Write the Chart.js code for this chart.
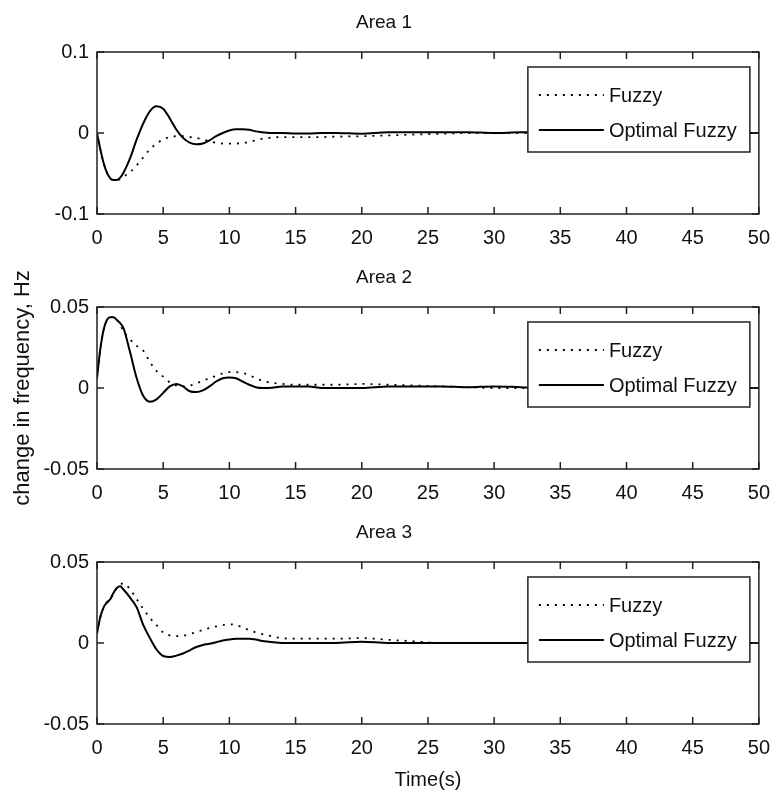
<!DOCTYPE html>
<html>
<head>
<meta charset="utf-8">
<script src="https://cdn.jsdelivr.net/npm/chart.js@4.4.1/dist/chart.umd.min.js"></script>
<style>
  html, body { margin: 0; padding: 0; background: #fff; }
  #wrap { position: relative; width: 782px; height: 800px; }
  .panel { position: absolute; left: 0; width: 782px; }
</style>
</head>
<body>
<div id="wrap">
  <div class="panel" style="top:0"><canvas id="area1" width="782" height="255"></canvas></div>
  <div class="panel" style="top:255px"><canvas id="area2" width="782" height="255"></canvas></div>
  <div class="panel" style="top:510px"><canvas id="area3" width="782" height="290"></canvas></div>
</div>
<script>
// Tiempo (s), compartido por todas las curvas
const tiempo = [0, 0.25, 0.5, 0.75, 1, 1.25, 1.5, 1.75, 2, 2.5, 3, 3.5, 4, 4.5, 5, 5.5, 6, 6.5, 7, 7.5,
  8, 8.5, 9, 9.5, 10, 10.5, 11, 11.5, 12, 12.5, 13, 14, 15, 16, 17, 18, 20, 22, 24, 26, 28, 30,
  32, 34, 36, 38, 40, 42, 44, 46, 48, 50];

// Area 1
const area1Fuzzy = [0, -0.02, -0.037, -0.049, -0.056, -0.058, -0.058, -0.057, -0.054, -0.048, -0.040, -0.030, -0.020, -0.013, -0.008, -0.005, -0.004, -0.004, -0.005, -0.006,
  -0.008, -0.010, -0.012, -0.013, -0.013, -0.013, -0.0125, -0.011, -0.009, -0.007, -0.006, -0.005, -0.005, -0.005, -0.005, -0.0045, -0.004, -0.003, -0.002, -0.001, 0, 0,
  0, 0, 0, 0, 0, 0, 0, 0, 0, 0];
const area1Optimo = [0, -0.02, -0.037, -0.049, -0.056, -0.058, -0.058, -0.055, -0.049, -0.031, -0.008, 0.012, 0.027, 0.033, 0.030, 0.018, 0.004, -0.006, -0.012, -0.014,
  -0.013, -0.009, -0.004, 0, 0.003, 0.0045, 0.0046, 0.004, 0.002, 0.001, 0, 0, -0.0005, -0.0005, 0, 0, -0.0008, 0.0008, 0.0008, 0.001, 0.001, 0,
  0.0008, 0.0008, 0, 0, 0, 0, 0, 0, 0, 0];

// Area 2
const area2Fuzzy = [0.006, 0.024, 0.036, 0.042, 0.0437, 0.0437, 0.042, 0.039, 0.035, 0.030, 0.026, 0.023, 0.016, 0.0105, 0.007, 0.0035, 0.0015, 0.001, 0.0015, 0.0028,
  0.0045, 0.006, 0.0075, 0.009, 0.0098, 0.0098, 0.0092, 0.008, 0.006, 0.0045, 0.0035, 0.0025, 0.002, 0.002, 0.002, 0.002, 0.0025, 0.002, 0.0015, 0.001, 0.0005, 0,
  0, 0, 0, 0, 0, 0, 0, 0, 0, 0];
const area2Optimo = [0.006, 0.024, 0.036, 0.042, 0.0437, 0.0437, 0.042, 0.040, 0.037, 0.022, 0.006, -0.005, -0.0085, -0.007, -0.003, 0.001, 0.0025, 0.001, -0.002, -0.0025,
  -0.0015, 0.001, 0.004, 0.006, 0.0065, 0.006, 0.004, 0.002, 0.0005, 0, 0, 0.001, 0.001, 0.001, 0, 0, 0, 0.001, 0.001, 0.001, 0.0005, 0.001,
  0.0005, 0, 0, 0, 0, 0, 0, 0, 0, 0];

// Area 3
const area3Fuzzy = [0.006, 0.016, 0.022, 0.025, 0.027, 0.031, 0.034, 0.036, 0.0368, 0.033, 0.027, 0.021, 0.0155, 0.011, 0.0065, 0.0047, 0.0042, 0.0045, 0.0055, 0.0068,
  0.008, 0.0092, 0.0102, 0.011, 0.0115, 0.0112, 0.0095, 0.008, 0.0065, 0.0055, 0.0045, 0.003, 0.0027, 0.0027, 0.0027, 0.0027, 0.003, 0.002, 0.001, 0, 0, 0,
  0, 0, 0, 0, 0, 0, 0, 0, 0, 0];
const area3Optimo = [0.006, 0.016, 0.022, 0.025, 0.027, 0.031, 0.034, 0.035, 0.033, 0.028, 0.022, 0.011, 0.003, -0.004, -0.008, -0.0086, -0.0078, -0.0065, -0.0045, -0.0025,
  -0.0012, -0.0005, 0.0005, 0.0015, 0.0022, 0.0027, 0.0027, 0.0027, 0.0022, 0.0012, 0.0008, 0, 0, 0, 0, 0, 0.0008, 0, 0, 0, 0, 0,
  0, 0, 0, 0, 0, 0, 0, 0, 0, 0];

// Marcas de los ejes
const ticksX = [0, 5, 10, 15, 20, 25, 30, 35, 40, 45, 50];
const ticksY1 = [-0.1, 0, 0.1];
const ticksY23 = [-0.05, 0, 0.05];

const FUENTE = '"Liberation Sans", Arial, sans-serif';
Chart.defaults.font.family = FUENTE;
Chart.defaults.color = '#111';

// Caja de leyenda, marco y marcas interiores (estilo MATLAB)
const marcoEjes = {
  id: 'marcoEjes',
  afterDatasetsDraw(chart) {
    const { ctx, chartArea: a, scales: { x, y } } = chart;
    ctx.save();

    // leyenda
    const lx = a.right - 231, ly = a.top + 15, lw = 222, lh = 85;
    ctx.fillStyle = '#fff';
    ctx.fillRect(lx, ly, lw, lh);
    ctx.strokeStyle = '#222';
    ctx.lineWidth = 1.5;
    ctx.setLineDash([]);
    ctx.strokeRect(lx, ly, lw, lh);
    chart.data.datasets.forEach((ds, i) => {
      const cy = ly + 28 + i * 35;
      ctx.beginPath();
      ctx.strokeStyle = '#000';
      ctx.lineWidth = ds.borderWidth;
      ctx.setLineDash(ds.borderDash || []);
      ctx.moveTo(lx + 11, cy);
      ctx.lineTo(lx + 76, cy);
      ctx.stroke();
      ctx.setLineDash([]);
      ctx.fillStyle = '#111';
      ctx.font = '20px ' + FUENTE;
      ctx.textBaseline = 'middle';
      ctx.textAlign = 'left';
      ctx.fillText(ds.label, lx + 81, cy + 1);
    });

    // marco
    ctx.lineWidth = 1.5;
    ctx.strokeStyle = '#222';
    ctx.strokeRect(a.left, a.top, a.right - a.left, a.bottom - a.top);

    // marcas interiores
    const L = 7;
    ctx.beginPath();
    x.ticks.forEach(t => {
      const px = x.getPixelForValue(t.value);
      ctx.moveTo(px, a.bottom); ctx.lineTo(px, a.bottom - L);
      ctx.moveTo(px, a.top); ctx.lineTo(px, a.top + L);
    });
    y.ticks.forEach(t => {
      const py = y.getPixelForValue(t.value);
      ctx.moveTo(a.left, py); ctx.lineTo(a.left + L, py);
      ctx.moveTo(a.right, py); ctx.lineTo(a.right - L, py);
    });
    ctx.stroke();
    ctx.restore();
  }
};

function puntos(valores) {
  return tiempo.map((t, i) => ({ x: t, y: valores[i] }));
}

function crearArea(id, titulo, fuzzy, optimo, ticksY, altoX, tituloY, tituloX) {
  const ctx = document.getElementById(id).getContext('2d');
  return new Chart(ctx, {
    type: 'line',
    data: {
      datasets: [{
        label: 'Fuzzy',
        data: puntos(fuzzy),
        borderColor: '#000',
        borderWidth: 1.8,
        borderDash: [2, 6],
        pointRadius: 0,
        cubicInterpolationMode: 'monotone',
        fill: false
      }, {
        label: 'Optimal Fuzzy',
        data: puntos(optimo),
        borderColor: '#000',
        borderWidth: 2,
        pointRadius: 0,
        cubicInterpolationMode: 'monotone',
        fill: false
      }]
    },
    options: {
      responsive: false,
      animation: false,
      layout: { padding: { left: 0, right: 14, top: 0, bottom: 0 } },
      plugins: {
        legend: { display: false },
        tooltip: { enabled: false },
        title: {
          display: true,
          text: titulo,
          color: '#111',
          font: { size: 19, weight: 'normal', lineHeight: 1 },
          padding: { top: 13, bottom: 20 }
        }
      },
      scales: {
        x: {
          type: 'linear',
          min: 0,
          max: 50,
          grid: { display: false, drawTicks: false },
          border: { display: false },
          ticks: { font: { size: 20 }, padding: 12, maxRotation: 0, autoSkip: false },
          afterBuildTicks: s => { s.ticks = ticksX.map(v => ({ value: v })); },
          afterFit: s => { s.height = altoX; },
          title: tituloX ? {
            display: true, text: tituloX, color: '#111',
            font: { size: 20 }, padding: { top: 0, bottom: 8 }
          } : { display: false }
        },
        y: {
          type: 'linear',
          min: ticksY[0],
          max: ticksY[ticksY.length - 1],
          grid: { display: false, drawTicks: false },
          border: { display: false },
          ticks: {
            font: { size: 20 }, padding: 8, autoSkip: false,
            callback: v => (v === 0 ? '0' : String(v))
          },
          afterBuildTicks: s => { s.ticks = ticksY.map(v => ({ value: v })); },
          afterFit: s => { s.width = 97; },
          title: tituloY ? {
            display: true, text: tituloY, color: '#111',
            font: { size: 22 }, padding: { top: 10, bottom: 0 }
          } : { display: false }
        }
      }
    },
    plugins: [marcoEjes]
  });
}

crearArea('area1', 'Area 1', area1Fuzzy, area1Optimo, ticksY1, 41);
crearArea('area2', 'Area 2', area2Fuzzy, area2Optimo, ticksY23, 41, 'change in frequency, Hz');
crearArea('area3', 'Area 3', area3Fuzzy, area3Optimo, ticksY23, 76, null, 'Time(s)');
</script>
</body>
</html>
